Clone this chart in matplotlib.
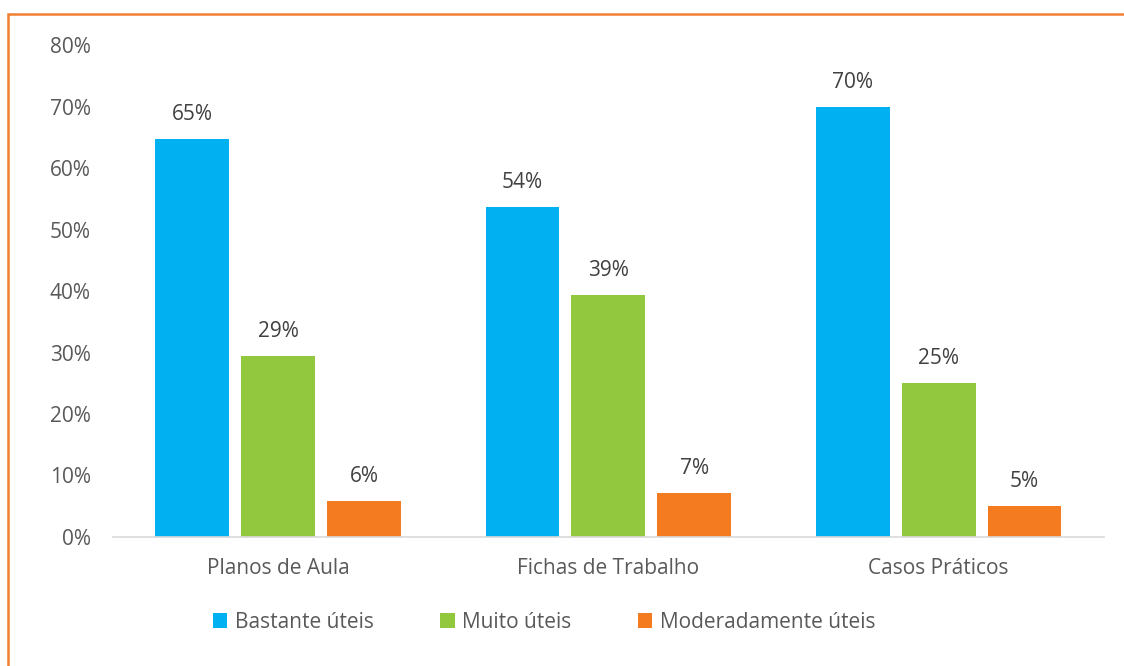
import matplotlib.pyplot as plt
import numpy as np
from matplotlib.patches import Rectangle

categories = ['Planos de Aula', 'Fichas de Trabalho', 'Casos Práticos']
series_names = ['Bastante úteis', 'Muito úteis', 'Moderadamente úteis']
bastante = [0.647, 0.537, 0.700]
muito = [0.294, 0.393, 0.250]
moderadamente = [0.059, 0.071, 0.050]
colors = ['#00B0F0', '#92C83E', '#F47B20']

plt.rcParams['font.family'] = ['Open Sans', 'DejaVu Sans']
text_color = '#595959'
fs = 15

fig = plt.figure(figsize=(11.24, 6.66), dpi=100)
ax = fig.add_axes([0.1005, 0.1937, 0.8815, 0.7387])

x = np.arange(len(categories))
width = 0.224
step = 0.26
for i, (vals, name) in enumerate(zip([bastante, muito, moderadamente], series_names)):
    pos = x + (i - 1) * step
    bars = ax.bar(pos, vals, width, color=colors[i], label=name)
    for b, v in zip(bars, vals):
        ax.annotate(f'{v:.0%}', (b.get_x() + b.get_width() / 2, v),
                    xytext=(0, 10), textcoords='offset points',
                    ha='center', va='bottom', fontsize=fs, color='#404040')

ax.set_xlim(-0.5, 2.5)
ax.set_ylim(0, 0.8)
ticks = np.arange(0, 0.81, 0.1)
ax.set_yticks(ticks)
ax.set_yticklabels([f'{int(round(t * 100))}%' for t in ticks])
ax.set_xticks(x)
ax.set_xticklabels(categories)
ax.tick_params(axis='both', length=0, labelsize=fs, labelcolor=text_color)
ax.tick_params(axis='x', pad=15)
ax.tick_params(axis='y', pad=16)
for s in ['top', 'right', 'left']:
    ax.spines[s].set_visible(False)
ax.spines['bottom'].set_color('#D9D9D9')
ax.spines['bottom'].set_linewidth(1.2)

leg = ax.legend(loc='center', bbox_to_anchor=(0.435, -0.173), ncol=3, frameon=False,
                fontsize=fs, handlelength=0.7, handleheight=0.7, handletextpad=0.35,
                columnspacing=3.2, labelcolor=text_color)

# orange frame around the chart (right and bottom edges fall outside the image)
fig.patches.append(Rectangle((0.0075, -0.05), 1.05, 1.029, transform=fig.transFigure,
                             fill=False, edgecolor='#F08030', linewidth=1.8))

fig.savefig('out.png', dpi=100)
